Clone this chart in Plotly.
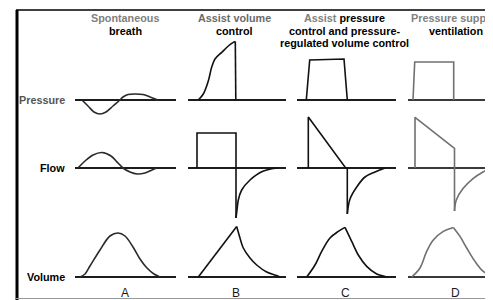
import plotly.graph_objects as go
from plotly.subplots import make_subplots

# ---------------- data (time units, amplitude units) ----------------
HEADER_LINES = [
    ["<span style='color:#808080'>Spontaneous</span>", "breath"],
    ["<span style='color:#6a6a6a'>Assist volume</span>", "control"],
    ["<span style='color:#808080'>Assist</span> pressure", "control and pressure-", "regulated volume control"],
    ["<span style='color:#808080'>Pressure support</span>", "ventilation"],
]
COLUMN_LETTERS = ["A", "B", "C", "D"]
ROW_LABELS = ["<span style='color:#555'>Pressure</span>", "Flow", "Volume"]
COLUMN_SPANS = [101, 98, 99, 85]

# A: spontaneous breath
A_PRESS_T = [7, 13, 19, 25, 31, 38, 45, 48, 53, 60, 68, 75, 83]
A_PRESS_V = [0, -6, -12, -14, -12, -6, 0, 3, 5.5, 6, 5.5, 3, 0]
A_FLOW_T = [3, 10, 18, 27, 36, 43, 48, 55, 62, 70, 77, 82]
A_FLOW_V = [0, 7, 13, 15.5, 12, 5, 0, -4, -6, -5, -2, 0]
A_VOL_T = [5, 10, 15, 25, 35, 43, 50, 58, 65, 72, 79, 85]
A_VOL_V = [0, 3, 11, 27, 41, 44, 41, 30, 18, 9, 3, 0]

# B: assist volume control
B_PRESS_RISE_T = [10.3, 15.3, 20.3, 23.7, 27, 33.7, 40.3, 45.3, 47.3]
B_PRESS_RISE_V = [0, 6, 19, 33, 41, 47.6, 54, 57.6, 58.5]
B_PRESS_FALL_T = [47.3, 47.8]
B_PRESS_FALL_V = [58.5, 0]
B_FLOW_SQ_T = [9, 9, 48, 48]
B_FLOW_SQ_V = [0, 35, 35, -50]
B_FLOW_EXP_T = [48, 49, 50.3, 53.7, 62, 73.7, 88.7]
B_FLOW_EXP_V = [-50, -42, -32, -22, -12, -3.7, 0]
B_VOL_RISE_T = [10.3, 48.7]
B_VOL_RISE_V = [0, 50.5]
B_VOL_FALL_T = [48.7, 52, 55.3, 62, 68.7, 78.7, 88.7, 92]
B_VOL_FALL_V = [50.5, 39, 29, 19, 12, 5, 1.5, 0]

# C: assist pressure control / pressure-regulated volume control
C_PRESS_T = [9.3, 12.7, 47, 50.3]
C_PRESS_V = [0, 40, 41, 0]
C_FLOW_LIN_T = [11.3, 11.3, 48.7, 50.3, 50.3]
C_FLOW_LIN_V = [0, 51, 0, 0, -46]
C_FLOW_EXP_T = [50.3, 53, 59.7, 68, 78, 88]
C_FLOW_EXP_V = [-46, -31, -19, -9, -4, 0]
C_VOL_RISE_T = [9.7, 18, 24.7, 33, 41.3, 48]
C_VOL_RISE_V = [0, 12, 25.6, 39, 45.6, 49.6]
C_VOL_FALL_T = [48, 54.7, 61.3, 69.7, 79.7, 88, 90]
C_VOL_FALL_V = [49.6, 35.6, 22, 10.6, 3, 0.5, 0]

# D: pressure support ventilation
D_PRESS_T = [5, 6.7, 45.7, 45.7]
D_PRESS_V = [0, 38, 38, 0]
D_FLOW_LIN_T = [7, 7, 46.5, 46.5]
D_FLOW_LIN_V = [0, 50.7, 19.7, -43]
D_FLOW_EXP_T = [46.5, 48.3, 55, 65, 75, 83.3]
D_FLOW_EXP_V = [-43, -32, -20.6, -10.6, -4, 0]
D_VOL_RISE_T = [3.7, 12, 18.7, 25.3, 35.3, 45.3]
D_VOL_RISE_V = [0, 9, 25.6, 37, 45.6, 49.6]
D_VOL_FALL_T = [45.3, 52, 58.7, 67, 75.3, 83.7, 85]
D_VOL_FALL_V = [49.6, 40.6, 29, 15.6, 5.6, 1.3, 0.8]

# ---------------- layout constants (screen pixels; page has an 8px body margin) ----------------
PAGE_MARGIN = 8
W, H = 493 - PAGE_MARGIN, 300 - PAGE_MARGIN
COL_PX = [(75, 176), (188, 286), (297, 396), (408, 493)]
ROW_PX = [(30, 125), (105, 230), (215, 285)]          # top, bottom pixels of each row
ROW_RANGE = [(-25, 70), (-62, 63), (-8, 62)]
COL_COLOR = ["#2a2a2a", "#111111", "#111111", "#707070"]
HEADER_X = [125, 234, 344, 456]
HEADER_Y = [18, 31, 43]
LETTER_X = [125, 236, 345, 455]
ROW_LABEL_Y = [100, 168, 277]


def px_x(p):
    return (p - PAGE_MARGIN) / W


def px_y(p):
    return 1 - (p - PAGE_MARGIN) / H


fig = make_subplots(rows=3, cols=4)

# (row, col, t, v, shape)
curves = [
    (1, 1, A_PRESS_T, A_PRESS_V, "spline"),
    (2, 1, A_FLOW_T, A_FLOW_V, "spline"),
    (3, 1, A_VOL_T, A_VOL_V, "spline"),
    (1, 2, B_PRESS_RISE_T, B_PRESS_RISE_V, "spline"),
    (1, 2, B_PRESS_FALL_T, B_PRESS_FALL_V, "linear"),
    (2, 2, B_FLOW_SQ_T, B_FLOW_SQ_V, "linear"),
    (2, 2, B_FLOW_EXP_T, B_FLOW_EXP_V, "spline"),
    (3, 2, B_VOL_RISE_T, B_VOL_RISE_V, "linear"),
    (3, 2, B_VOL_FALL_T, B_VOL_FALL_V, "spline"),
    (1, 3, C_PRESS_T, C_PRESS_V, "linear"),
    (2, 3, C_FLOW_LIN_T, C_FLOW_LIN_V, "linear"),
    (2, 3, C_FLOW_EXP_T, C_FLOW_EXP_V, "spline"),
    (3, 3, C_VOL_RISE_T, C_VOL_RISE_V, "spline"),
    (3, 3, C_VOL_FALL_T, C_VOL_FALL_V, "spline"),
    (1, 4, D_PRESS_T, D_PRESS_V, "linear"),
    (2, 4, D_FLOW_LIN_T, D_FLOW_LIN_V, "linear"),
    (2, 4, D_FLOW_EXP_T, D_FLOW_EXP_V, "spline"),
    (3, 4, D_VOL_RISE_T, D_VOL_RISE_V, "spline"),
    (3, 4, D_VOL_FALL_T, D_VOL_FALL_V, "spline"),
]
for r, c, t, v, shape in curves:
    fig.add_trace(
        go.Scatter(x=t, y=v, mode="lines",
                   line=dict(color=COL_COLOR[c - 1], width=1.6, shape=shape),
                   hoverinfo="skip", showlegend=False, cliponaxis=False),
        row=r, col=c)

for r in range(3):
    for c in range(4):
        idx = r * 4 + c + 1
        suffix = "" if idx == 1 else str(idx)
        x0, x1 = COL_PX[c]
        top, bot = ROW_PX[r]
        fig.layout["xaxis" + suffix].update(
            domain=[px_x(x0), min(1, px_x(x1))], range=[0, COLUMN_SPANS[c]],
            visible=False, showgrid=False, zeroline=False, fixedrange=True)
        fig.layout["yaxis" + suffix].update(
            domain=[px_y(bot), px_y(top)], range=list(ROW_RANGE[r]),
            showgrid=False, showticklabels=False, ticks="", showline=False,
            zeroline=True, zerolinecolor="#1c1c1c" if c < 3 else "#3a3a3a",
            zerolinewidth=1.6, fixedrange=True)

annotations = []
font_b = dict(family="Liberation Sans, Arial, sans-serif", size=10.8, color="#000")
for i, lines in enumerate(HEADER_LINES):
    for j, txt in enumerate(lines):
        annotations.append(dict(
            x=px_x(HEADER_X[i]), y=px_y(HEADER_Y[j]), xref="paper", yref="paper",
            xanchor="center", yanchor="middle", showarrow=False, align="center",
            text="<b>" + txt + "</b>", font=font_b))
for i, txt in enumerate(ROW_LABELS):
    annotations.append(dict(
        x=px_x(67), y=px_y(ROW_LABEL_Y[i]), xref="paper", yref="paper",
        xanchor="right", yanchor="middle", showarrow=False,
        text="<b>" + txt + "</b>", font=font_b))
for i, txt in enumerate(COLUMN_LETTERS):
    annotations.append(dict(
        x=px_x(LETTER_X[i]), y=px_y(293), xref="paper", yref="paper",
        xanchor="center", yanchor="middle", showarrow=False,
        text=txt, font=dict(family="Liberation Sans, Arial, sans-serif", size=12, color="#1a1a1a")))

shapes = [
    dict(type="line", xref="paper", yref="paper", x0=px_x(17), x1=px_x(17), y0=px_y(10), y1=0,
         line=dict(color="#000", width=3)),
    dict(type="line", xref="paper", yref="paper", x0=px_x(16), x1=1, y0=px_y(10), y1=px_y(10),
         line=dict(color="#000", width=1.5)),
    dict(type="line", xref="paper", yref="paper", x0=px_x(16), x1=1, y0=px_y(298.5), y1=px_y(298.5),
         line=dict(color="#999", width=1)),
]

fig.update_layout(
    width=W, height=H, margin=dict(l=0, r=0, t=0, b=0),
    paper_bgcolor="white", plot_bgcolor="rgba(0,0,0,0)",
    annotations=annotations, shapes=shapes, showlegend=False)

fig.write_html("out.html", config={"displayModeBar": False})
